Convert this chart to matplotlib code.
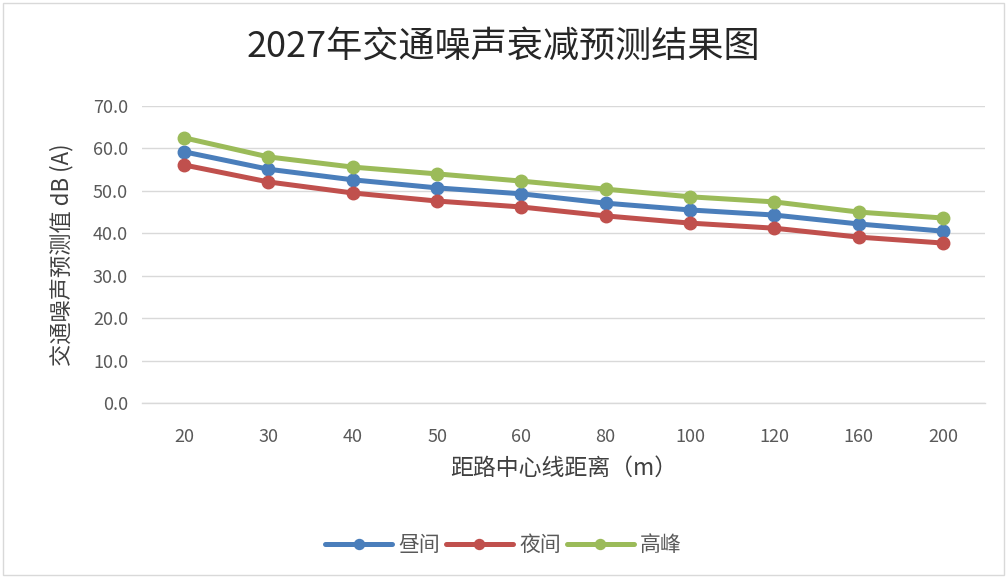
import matplotlib.pyplot as plt
from matplotlib.patches import Rectangle

plt.rcParams['font.family'] = ['Noto Sans CJK SC', 'DejaVu Sans']

distances = ["20", "30", "40", "50", "60", "80", "100", "120", "160", "200"]
day = [59.2, 55.1, 52.6, 50.7, 49.3, 47.1, 45.5, 44.3, 42.2, 40.5]
night = [56.1, 52.1, 49.5, 47.6, 46.2, 44.1, 42.4, 41.2, 39.1, 37.7]
peak = [62.5, 58.0, 55.6, 54.0, 52.3, 50.4, 48.6, 47.4, 45.0, 43.6]
yticks = [0, 10, 20, 30, 40, 50, 60, 70]

series = [("昼间", day, "#4a7ebb"), ("夜间", night, "#c0504d"), ("高峰", peak, "#9bbb59")]

fig = plt.figure(figsize=(10.07, 5.78), dpi=100)
ax = fig.add_axes([142 / 1007, 1 - 403 / 578, (985 - 142) / 1007, (403 - 106) / 578])

x = list(range(len(distances)))
for name, vals, col in series:
    ax.plot(x, vals, color=col, lw=3.6, marker="o", ms=9, label=name,
            solid_capstyle="round")

ax.set_xlim(-0.5, len(distances) - 0.5)
ax.set_ylim(0, 70)
ax.set_yticks(yticks)
ax.set_yticklabels([f"{v:.1f}" for v in yticks])
ax.set_xticks(x)
ax.set_xticklabels(distances)
ax.grid(axis="y", color="#d9d9d9", lw=1)
ax.axhline(0, color="#d9d9d9", lw=1, clip_on=False, zorder=0)
ax.set_axisbelow(True)
for s in ax.spines.values():
    s.set_visible(False)
ax.tick_params(length=0, labelsize=13, labelcolor="#595959", pad=10)
ax.tick_params(axis="x", pad=18)

ax.set_ylabel("交通噪声预测值 dB (A)", fontsize=16, color="#404040", labelpad=14)
ax.set_xlabel("距路中心线距离（m）", fontsize=16.5, color="#404040", labelpad=8)

fig.text(0.5, 1 - 47 / 578, "2027年交通噪声衰减预测结果图", ha="center", va="center",
         fontsize=26, color="#262626")

ax.legend(loc="center", bbox_to_anchor=(0.5, 1 - 545 / 578), bbox_transform=fig.transFigure,
          ncol=3, frameon=False, fontsize=15, labelcolor="#595959",
          handlelength=3.2, columnspacing=0.3, handletextpad=0.3, markerscale=0.8)

fig.patches.append(Rectangle((3 / 1007, 3 / 578), 1 - 6 / 1007, 1 - 6 / 578,
                             transform=fig.transFigure, fill=False,
                             edgecolor="#d9d9d9", lw=1))

fig.savefig("out.png", dpi=100)
